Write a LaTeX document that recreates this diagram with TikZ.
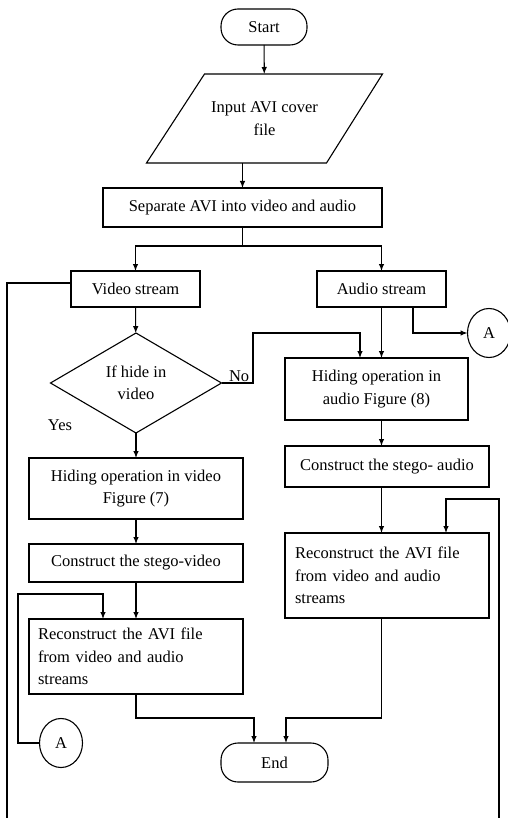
\documentclass[tikz,border=0pt]{standalone}
\usepackage{fontspec}
\setmainfont{Liberation Serif}
\usetikzlibrary{shapes.geometric,arrows.meta}

\begin{document}
\begin{tikzpicture}[x=1pt,y=-1pt,line width=1.1pt,
  every node/.style={font=\fontsize{16.5}{22.5}\selectfont, outer sep=0pt, inner sep=0pt},
  box/.style={draw, rectangle, align=center},
  terminal/.style={draw, rectangle, rounded corners=17pt},
  io/.style={rectangle, align=center},
  decision/.style={draw, diamond, align=center, aspect=1.7},
  connector/.style={draw, ellipse, minimum width=43pt, minimum height=49pt},
  arr/.style={-{Latex[length=7pt,width=5.5pt]}}]
\useasboundingbox (0,0) rectangle (507,818);

\node[terminal, minimum width=86pt, minimum height=36pt] (start) at (264,27) {Start};
\node[io, minimum width=178pt, minimum height=89pt] (input) at (264.5,118.5) {Input AVI cover\\file};
\draw ([xshift=29pt]input.north west) -- ([xshift=29pt]input.north east)
  -- ([xshift=-27pt]input.south east) -- ([xshift=-29pt]input.south west) -- cycle;
\node[box, minimum width=279pt, minimum height=39pt] (sep) at (242.5,207.5) {Separate AVI into video and audio};
\node[box, minimum width=129pt, minimum height=36pt] (vstream) at (135.5,289) {Video stream};
\node[box, minimum width=129pt, minimum height=36pt] (astream) at (381.5,289) {Audio stream};
\node[decision, minimum width=171pt, minimum height=100pt] (cond) at (136,383) {If hide in\\video};
\node[box, minimum width=183pt, minimum height=62pt] (hideA) at (376.5,389) {Hiding operation in\\audio Figure (8)};
\node[box, minimum width=214pt, minimum height=61pt] (hideV) at (136,488.5) {Hiding operation in video\\Figure (7)};
\node[box, minimum width=204pt, minimum height=41pt] (stegoA) at (387,466.5) {Construct the stego- audio};
\node[box, minimum width=214pt, minimum height=38pt] (stegoV) at (136,563) {Construct the stego-video};
\node[box, align=left, text width=184pt, inner xsep=10pt, minimum height=85pt] (recA) at (387,575.5) {Reconstruct the AVI file\\from video and audio\\streams};
\node[box, align=left, text width=196pt, inner xsep=9pt, minimum height=75pt] (recV) at (136,656.5) {Reconstruct the AVI file\\from video and audio\\streams};
\node[terminal, minimum width=107pt, minimum height=39pt] (endn) at (274.5,762.5) {End};
\node[connector] (conA) at (489,333) {A};
\node[connector] (conB) at (61,743) {A};
\node[anchor=south west] (lblno) at (229,382) {No};
\node (lblyes) at (60,425) {Yes};

\coordinate (split) at (242.5,246);
\coordinate (nobend) at (253,333);
\coordinate (abend) at (18,594);
\coordinate (rbend) at (499,499);
\coordinate (lout) at (7,818);
\coordinate (rout) at (499,818);

\draw[arr] (start) -- (input);
\draw[arr] (sep.north |- input.south) -- (sep.north);
\draw (sep.south) -- (split);
\draw[arr] (split) -| (vstream.north);
\draw[arr] (split) -| (astream.north);
\draw ([yshift=6pt]vstream.west) -| (lout);
\draw[arr] (vstream) -- (cond);
\draw[arr] (astream.south) -- (astream.south |- hideA.north);
\draw[arr] ([xshift=31.5pt]astream.south) |- (conA.west);
\draw[arr] (cond.east) -| (nobend) -| ([xshift=-16.5pt]hideA.north);
\draw[arr] (cond) -- (hideV);
\draw[arr] (hideV) -- (stegoV);
\draw[arr] (stegoV) -- (recV);
\draw[arr] (hideA.south -| astream) -- (stegoA.north -| astream);
\draw[arr] (stegoA.south -| astream) -- (recA.north -| astream);
\draw[arr] (rout) -- (rbend) -| ([xshift=59pt]recA.north);
\draw[arr] (conB.west) -| (abend) -| ([xshift=-33pt]recV.north);
\draw[arr] (recV.south) -- ++(0,24) -| ([xshift=-20.5pt]endn.north);
\draw[arr] (recA.south -| astream) -- ++(0,100) -| ([xshift=11.5pt]endn.north);
\end{tikzpicture}
\end{document}
